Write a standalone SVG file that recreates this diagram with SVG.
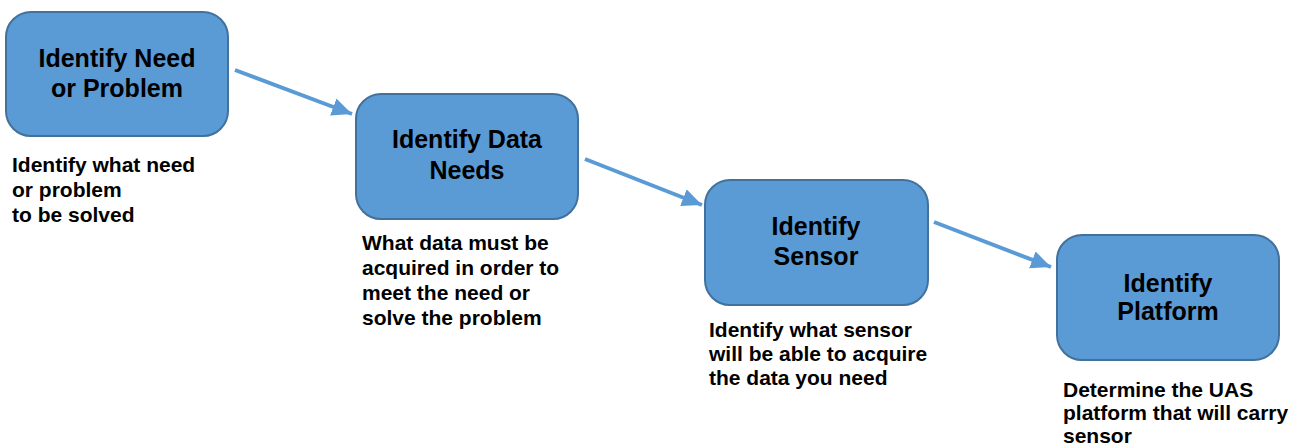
<svg xmlns="http://www.w3.org/2000/svg" width="1302" height="448" viewBox="0 0 1302 448">
<style>
.box{fill:#5b9bd5;stroke:#41719c;stroke-width:2}
.t{font-family:"Liberation Sans",Arial,sans-serif;font-weight:bold;font-size:25px;fill:#000;text-anchor:middle}
.d{font-family:"Liberation Sans",Arial,sans-serif;font-weight:bold;font-size:21px;fill:#000}
.c{stroke:#5b9bd5;stroke-width:4;fill:none;marker-end:url(#ah)}
</style>
<defs>
<marker id="ah" markerUnits="userSpaceOnUse" markerWidth="24" markerHeight="20" refX="20" refY="9" orient="auto">
<path d="M0,0 L20,9 L0,18 Z" fill="#5b9bd5"/>
</marker>
</defs>
<rect width="1302" height="448" fill="#fff"/>
<g id="connectors">
<line class="c" x1="235" y1="70" x2="352" y2="114"/>
<line class="c" x1="585" y1="159" x2="702" y2="205"/>
<line class="c" x1="934" y1="222" x2="1051" y2="267"/>
</g>
<g id="n1">
<rect class="box" x="6" y="12" width="222" height="124" rx="25"/>
<text class="t" x="117" y="67">Identify Need</text>
<text class="t" x="117" y="97">or Problem</text>
<text class="d" x="12" y="172">Identify what need</text>
<text class="d" x="12" y="197">or problem</text>
<text class="d" x="12" y="222">to be solved</text>
</g>
<g id="n2">
<rect class="box" x="356" y="94" width="222" height="125" rx="25"/>
<text class="t" x="467" y="148">Identify Data</text>
<text class="t" x="467" y="179">Needs</text>
<text class="d" x="362" y="250">What data must be</text>
<text class="d" x="362" y="275">acquired in order to</text>
<text class="d" x="362" y="300">meet the need or</text>
<text class="d" x="362" y="325">solve the problem</text>
</g>
<g id="n3">
<rect class="box" x="705" y="180" width="223" height="125" rx="25"/>
<text class="t" x="816" y="235">Identify</text>
<text class="t" x="816" y="265">Sensor</text>
<text class="d" x="709" y="337">Identify what sensor</text>
<text class="d" x="709" y="361">will be able to acquire</text>
<text class="d" x="709" y="385">the data you need</text>
</g>
<g id="n4">
<rect class="box" x="1057" y="235" width="222" height="125" rx="25"/>
<text class="t" x="1168" y="292">Identify</text>
<text class="t" x="1168" y="320">Platform</text>
<text class="d" x="1063" y="397">Determine the UAS</text>
<text class="d" x="1063" y="420">platform that will carry</text>
<text class="d" x="1063" y="443">sensor</text>
</g>
</svg>
